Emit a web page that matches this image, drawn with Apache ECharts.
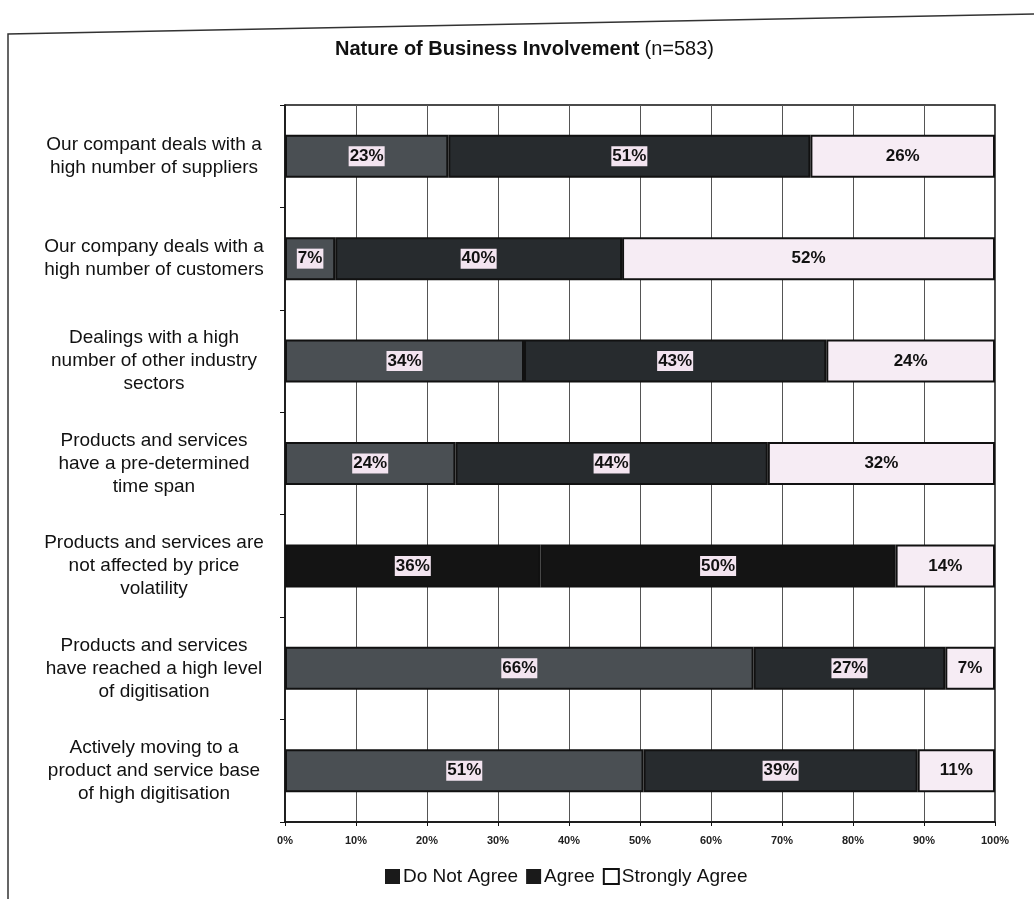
<!DOCTYPE html>
<html>
<head>
<meta charset="utf-8">
<script src="https://cdn.jsdelivr.net/npm/echarts@6/dist/echarts.min.js"></script>
<style>
  html, body { margin: 0; padding: 0; background: #fff; }
  #chart { width: 1034px; height: 899px; }
</style>
</head>
<body>
<div id="chart"></div>
<script>
const categories = [
  "Our compant deals with a\nhigh number of suppliers",
  "Our company deals with a\nhigh number of customers",
  "Dealings with a high\nnumber of other industry\nsectors",
  "Products and services\nhave a pre-determined\ntime span",
  "Products and services are\nnot affected by price\nvolatility",
  "Products and services\nhave reached a high level\nof digitisation",
  "Actively moving to a\nproduct and service base\nof high digitisation"
];
const seriesNames = ["Do Not Agree", "Agree", "Strongly Agree"];
const doNotAgree = [23, 7, 34, 24, 36, 66, 51];
const agree = [51, 40, 43, 44, 50, 27, 39];
const stronglyAgree = [26, 52, 24, 32, 14, 7, 11];
const xTicks = [0, 10, 20, 30, 40, 50, 60, 70, 80, 90, 100];

const colors = ["#4a4f53", "#272b2e", "#f6ecf4"];
const FONT = "Liberation Sans, Arial, sans-serif";

// 100% stacked like the original: each row is scaled to its own total, labels keep the printed value
const totals = categories.map((_, i) => doNotAgree[i] + agree[i] + stronglyAgree[i]);
function rowData(arr, s) {
  return arr.map((v, i) => {
    const d = { value: v / totals[i] * 100, raw: v };
    if (i === 4 && s < 2) d.itemStyle = { color: "#141414" };
    return d;
  });
}

const chart = echarts.init(document.getElementById("chart"));
chart.setOption({
  animation: false,
  textStyle: { fontFamily: FONT },
  title: {
    text: "{b|Nature of Business Involvement} {n|(n=583)}",
    left: 330,
    top: 34,
    textStyle: {
      fontWeight: "normal",
      rich: {
        b: { fontFamily: FONT, fontSize: 20, fontWeight: "bold", color: "#111" },
        n: { fontFamily: FONT, fontSize: 20, fontWeight: "normal", color: "#111" }
      }
    }
  },
  graphic: [
    {
      type: "polyline",
      shape: { points: [[8, 899], [8, 34], [1034, 14]] },
      style: { stroke: "#333", lineWidth: 1.5, fill: null }
    }
  ],
  legend: {
    left: 380,
    top: 862,
    itemWidth: 15,
    itemHeight: 15,
    itemGap: 8,
    icon: "rect",
    textStyle: { fontFamily: FONT, fontSize: 19, color: "#111", padding: [0, 0, 0, -2] },
    data: [
      { name: "Do Not Agree", itemStyle: { color: "#1a1a1a", borderWidth: 0 } },
      { name: "Agree", itemStyle: { color: "#1a1a1a", borderWidth: 0 } },
      { name: "Strongly Agree", itemStyle: { color: "#fff", borderColor: "#111", borderWidth: 2 } }
    ]
  },
  grid: {
    left: 285,
    right: 39,
    top: 105,
    bottom: 77,
    show: true,
    borderColor: "#111",
    borderWidth: 1.5
  },
  xAxis: {
    type: "value",
    min: 0,
    max: 100,
    interval: 10,
    axisLine: { show: true, lineStyle: { color: "#111", width: 1.5 } },
    axisTick: { show: true, length: 4, lineStyle: { color: "#111" } },
    splitLine: { show: true, lineStyle: { color: "#555", width: 1 } },
    axisLabel: {
      margin: 13,
      fontSize: 11,
      fontWeight: "bold",
      color: "#222",
      formatter: v => xTicks.includes(v) ? v + "%" : ""
    }
  },
  yAxis: {
    type: "category",
    inverse: true,
    data: categories,
    axisLine: { show: true, lineStyle: { color: "#111", width: 1.5 } },
    axisTick: { show: true, length: 5, lineStyle: { color: "#111" } },
    axisLabel: {
      margin: 131,
      align: "center",
      fontSize: 19,
      lineHeight: 23,
      color: "#111"
    }
  },
  series: [doNotAgree, agree, stronglyAgree].map((arr, s) => ({
    type: "bar",
    name: seriesNames[s],
    stack: "total",
    barWidth: 43,
    data: rowData(arr, s),
    itemStyle: { color: colors[s], borderColor: "#111", borderWidth: 2 },
    label: {
      show: true,
      position: "inside",
      fontFamily: FONT,
      fontSize: 17,
      fontWeight: "bold",
      color: "#111",
      backgroundColor: s < 2 ? "#f3e4f0" : "transparent",
      padding: [2, 1, 1, 1],
      formatter: p => p.data.raw + "%"
    }
  }))
});
</script>
</body>
</html>
